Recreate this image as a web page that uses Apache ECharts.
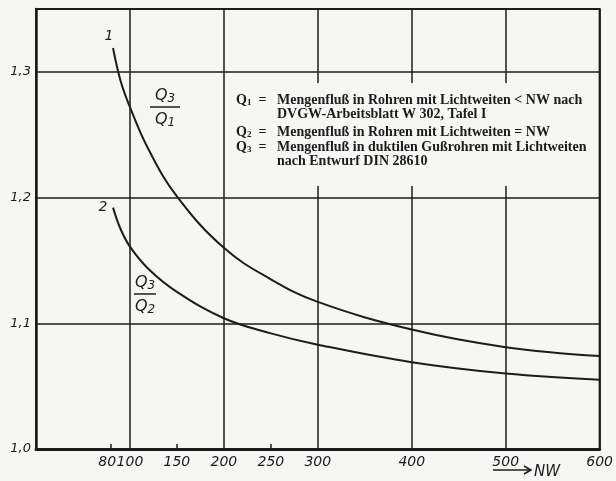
<!DOCTYPE html>
<html>
<head>
<meta charset="utf-8">
<script src="https://cdn.jsdelivr.net/npm/echarts@6.0.0/dist/echarts.min.js"></script>
<style>
  html, body { margin: 0; padding: 0; background: #f6f6f4; }
  #chart { width: 616px; height: 481px; }
</style>
</head>
<body>
<div id="chart"></div>
<script>
  // NW (Nennweite) and flow ratios
  const nw1 = [82, 90, 100, 120, 150, 200, 250, 300, 400, 500, 600];
  const ratio1 = [1.319, 1.293, 1.272, 1.238, 1.201, 1.160, 1.135, 1.117, 1.095, 1.081, 1.074]; // Q3/Q1
  const nw2 = [82, 90, 100, 120, 150, 200, 250, 300, 400, 500, 600];
  const ratio2 = [1.192, 1.175, 1.161, 1.143, 1.125, 1.104, 1.092, 1.083, 1.069, 1.060, 1.055]; // Q3/Q2

  const xTickLabels = [100, 150, 200, 250, 300, 400, 500, 600];
  const xExtraLabel = [80];
  const xMinorTicks = [80, 150, 250];
  const yTickLabels = [1.0, 1.1, 1.2, 1.3];

  const legendLines = [
    ['1', 'Mengenfluß in Rohren mit Lichtweiten < NW nach'],
    ['', 'DVGW-Arbeitsblatt W 302, Tafel I'],
    ['2', 'Mengenfluß in Rohren mit Lichtweiten = NW'],
    ['3', 'Mengenfluß in duktilen Gußrohren mit Lichtweiten'],
    ['', 'nach Entwurf DIN 28610']
  ];

  const ink = '#1c1c1c';
  const bg = '#f6f6f4';
  const handFont = '"DejaVu Sans", sans-serif';
  const labelStyle = { fontFamily: handFont, fontStyle: 'italic', fontSize: 14, color: ink };

  const chart = echarts.init(document.getElementById('chart'));

  // text block, it interrupts the grid lines like in the print
  const lineY = [101, 115, 133, 148, 162];
  const boxGraphics = [{
    type: 'rect',
    z: 5,
    shape: { x: 234, y: 83, width: 364, height: 103 },
    style: { fill: bg }
  }];
  legendLines.forEach((row, i) => {
    if (row[0]) {
      boxGraphics.push({
        type: 'text', z: 6, left: 236, top: lineY[i] - 8,
        style: {
          text: '{q|Q}{s|' + row[0] + '}  =',
          fill: ink,
          rich: {
            q: { fontFamily: 'Liberation Serif', fontWeight: 'bold', fontSize: 14 },
            s: { fontFamily: 'Liberation Serif', fontWeight: 'bold', fontSize: 9, padding: [5, 0, 0, 0] }
          },
          fontFamily: 'Liberation Serif', fontWeight: 'bold', fontSize: 14
        }
      });
    }
    boxGraphics.push({
      type: 'text', z: 6, left: 277, top: lineY[i] - 8,
      style: {
        text: row[1], fill: ink,
        fontFamily: 'Liberation Serif', fontWeight: 'bold', fontSize: 14
      }
    });
  });

  function fraction(cx, yNum, yLine, yDen, num, den, w) {
    const rich = {
      q: { fontFamily: handFont, fontStyle: 'italic', fontSize: 16, fill: ink },
      s: { fontFamily: handFont, fontStyle: 'italic', fontSize: 12, fill: ink, padding: [6, 0, 0, 0] }
    };
    return [
      { type: 'text', z: 6, x: cx, y: yNum, style: { text: '{q|Q}{s|' + num + '}', rich: rich, align: 'center', verticalAlign: 'middle' } },
      { type: 'line', z: 6, shape: { x1: cx - w / 2, y1: yLine, x2: cx + w / 2, y2: yLine }, style: { stroke: ink, lineWidth: 1.5 } },
      { type: 'text', z: 6, x: cx, y: yDen, style: { text: '{q|Q}{s|' + den + '}', rich: rich, align: 'center', verticalAlign: 'middle' } }
    ];
  }

  const labelGraphics = [
    { type: 'text', z: 6, x: 109, y: 36, style: { text: '1', fontFamily: handFont, fontStyle: 'italic', fontSize: 14, fill: ink, align: 'center', verticalAlign: 'middle' } },
    { type: 'text', z: 6, x: 103, y: 207, style: { text: '2', fontFamily: handFont, fontStyle: 'italic', fontSize: 14, fill: ink, align: 'center', verticalAlign: 'middle' } },
    ...fraction(165, 96, 107, 120, '3', '1', 30),
    ...fraction(145, 283, 294, 307, '3', '2', 22),
    // arrow -> NW
    { type: 'line', shape: { x1: 493, y1: 470, x2: 530, y2: 470 }, style: { stroke: ink, lineWidth: 1.5 } },
    { type: 'polyline', shape: { points: [[524, 466], [531, 470], [524, 474]] }, style: { stroke: ink, lineWidth: 1.5, fill: null } },
    { type: 'text', x: 534, y: 472, style: { text: 'NW', fontFamily: handFont, fontStyle: 'italic', fontSize: 15, fill: ink, verticalAlign: 'middle' } }
  ];

  chart.setOption({
    backgroundColor: bg,
    animation: false,
    grid: {
      left: 36, right: 15, top: 9, bottom: 32,
      show: true, borderColor: ink, borderWidth: 2
    },
    xAxis: [{
      type: 'value', min: 0, max: 600, interval: 100,
      axisLine: { show: true, lineStyle: { color: ink, width: 3 } },
      axisTick: { show: false },
      splitLine: { show: true, lineStyle: { color: ink, width: 1.5 } },
      axisLabel: Object.assign({ customValues: xTickLabels, margin: 6, hideOverlap: false }, labelStyle)
    }, {
      type: 'value', min: 0, max: 600, position: 'bottom',
      axisLine: { show: false },
      splitLine: { show: false },
      axisLabel: Object.assign({ customValues: xExtraLabel, margin: 6, hideOverlap: false, align: 'right', padding: [0, -5, 0, 0] }, labelStyle),
      axisTick: { show: true, customValues: xMinorTicks, inside: true, length: 5, lineStyle: { color: ink, width: 1.5 } }
    }],
    yAxis: {
      type: 'value', min: 1.0, max: 1.35, interval: 0.1,
      axisLine: { show: true, lineStyle: { color: ink, width: 2.5 } },
      axisTick: { show: false },
      splitLine: { show: true, lineStyle: { color: ink, width: 1.5 } },
      axisLabel: {
        customValues: yTickLabels,
        margin: 5,
        fontFamily: handFont, fontStyle: 'italic', fontSize: 13, color: ink,
        formatter: v => v.toFixed(1).replace('.', ',')
      }
    },
    series: [{
      type: 'line', name: 'Q3/Q1', z: 3,
      data: nw1.map((x, i) => [x, ratio1[i]]),
      smooth: 0.4, showSymbol: false,
      lineStyle: { color: ink, width: 2 }
    }, {
      type: 'line', name: 'Q3/Q2', z: 3,
      data: nw2.map((x, i) => [x, ratio2[i]]),
      smooth: 0.4, showSymbol: false,
      lineStyle: { color: ink, width: 2 }
    }],
    graphic: [...boxGraphics, ...labelGraphics]
  });
</script>
</body>
</html>
